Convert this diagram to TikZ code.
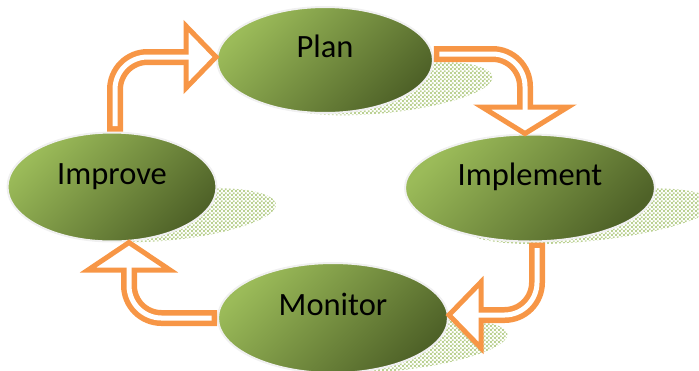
\documentclass[tikz,border=0pt]{standalone}
\usepackage{fontspec}
\setmainfont{Carlito}
\usetikzlibrary{shapes.geometric,patterns,backgrounds}
\definecolor{leafhi}{HTML}{9BBB59}
\definecolor{leaflo}{HTML}{4F6228}
\definecolor{loopline}{HTML}{F79646}
\definecolor{leafshade}{HTML}{BBD193}
\pgfdeclarepatternformonly{finechecker}{\pgfpointorigin}{\pgfqpoint{2.4pt}{2.4pt}}{\pgfqpoint{2.4pt}{2.4pt}}{%
  \pgfpathrectangle{\pgfpointorigin}{\pgfqpoint{1.2pt}{1.2pt}}%
  \pgfpathrectangle{\pgfqpoint{1.2pt}{1.2pt}}{\pgfqpoint{1.2pt}{1.2pt}}%
  \pgfusepath{fill}}
\begin{document}
\begin{tikzpicture}[x=0.02cm,y=-0.02cm,
  stage/.style={ellipse, draw=black!6, line width=0.04cm, top color=leafhi, bottom color=leaflo, shading angle=45, inner sep=0pt, text height=0.34cm, text depth=0.46cm, font=\fontsize{18.5}{20}\selectfont},
  blob/.style={ellipse, inner sep=0pt, minimum height=1cm, pattern=finechecker, pattern color=leafshade, rotate=6},
  band/.style={draw=loopline, line width=0.32cm, rounded corners=0.65cm, postaction={draw=white, line width=0.1cm, shorten <=0.11cm, shorten >=-0.14cm}},
  head/.style={draw=loopline, line width=0.1cm, fill=white, line join=miter}]
\useasboundingbox (0,0) rectangle (699,370);
\draw (325,60) node[stage, minimum width=4.32cm, minimum height=2.12cm] (plan) {Plan};
\draw (112,187) node[stage, minimum width=4.18cm, minimum height=2.18cm] (improve) {Improve};
\draw (530,188) node[stage, minimum width=5cm, minimum height=2.14cm] (implement) {Implement};
\draw (333,318) node[stage, minimum width=4.6cm, minimum height=2.2cm] (monitor) {Monitor};
\begin{scope}[on background layer]
\node[blob, minimum width=4.32cm] at ([shift={(60,28)}]plan.center) {};
\node[blob, minimum width=4.18cm] at ([shift={(60,28)}]improve.center) {};
\node[blob, minimum width=5cm] at ([shift={(60,28)}]implement.center) {};
\node[blob, minimum width=4.6cm] at ([shift={(60,28)}]monitor.center) {};
\end{scope}
\coordinate (h1) at (525,107);
\coordinate (h2) at (481,315);
\coordinate (h3) at (129,270);
\coordinate (h4) at (186,57);
\draw[head] ([xshift=-0.86cm]h1) -- (h1 |- implement.north) -- ([xshift=0.86cm]h1) -- cycle;
\draw[band] ([yshift=0.12cm]plan.east) -- (525,54) -- (h1);
\draw[head] ([yshift=0.66cm]h2) -- (h2 -| monitor.east) -- ([yshift=-0.66cm]h2) -- cycle;
\draw[band] ([xshift=0.14cm]implement.south) -- (537,315) -- (h2);
\draw[head] ([xshift=-0.82cm]h3) -- (h3 |- improve.south) -- ([xshift=0.82cm]h3) -- cycle;
\draw[band] (monitor.west) -- (129,318) -- (h3);
\draw[head] ([yshift=0.62cm]h4) -- (h4 -| plan.west) -- ([yshift=-0.62cm]h4) -- cycle;
\draw[band] ([xshift=0.06cm]improve.north) -- (115,57) -- (h4);
\end{tikzpicture}
\end{document}
